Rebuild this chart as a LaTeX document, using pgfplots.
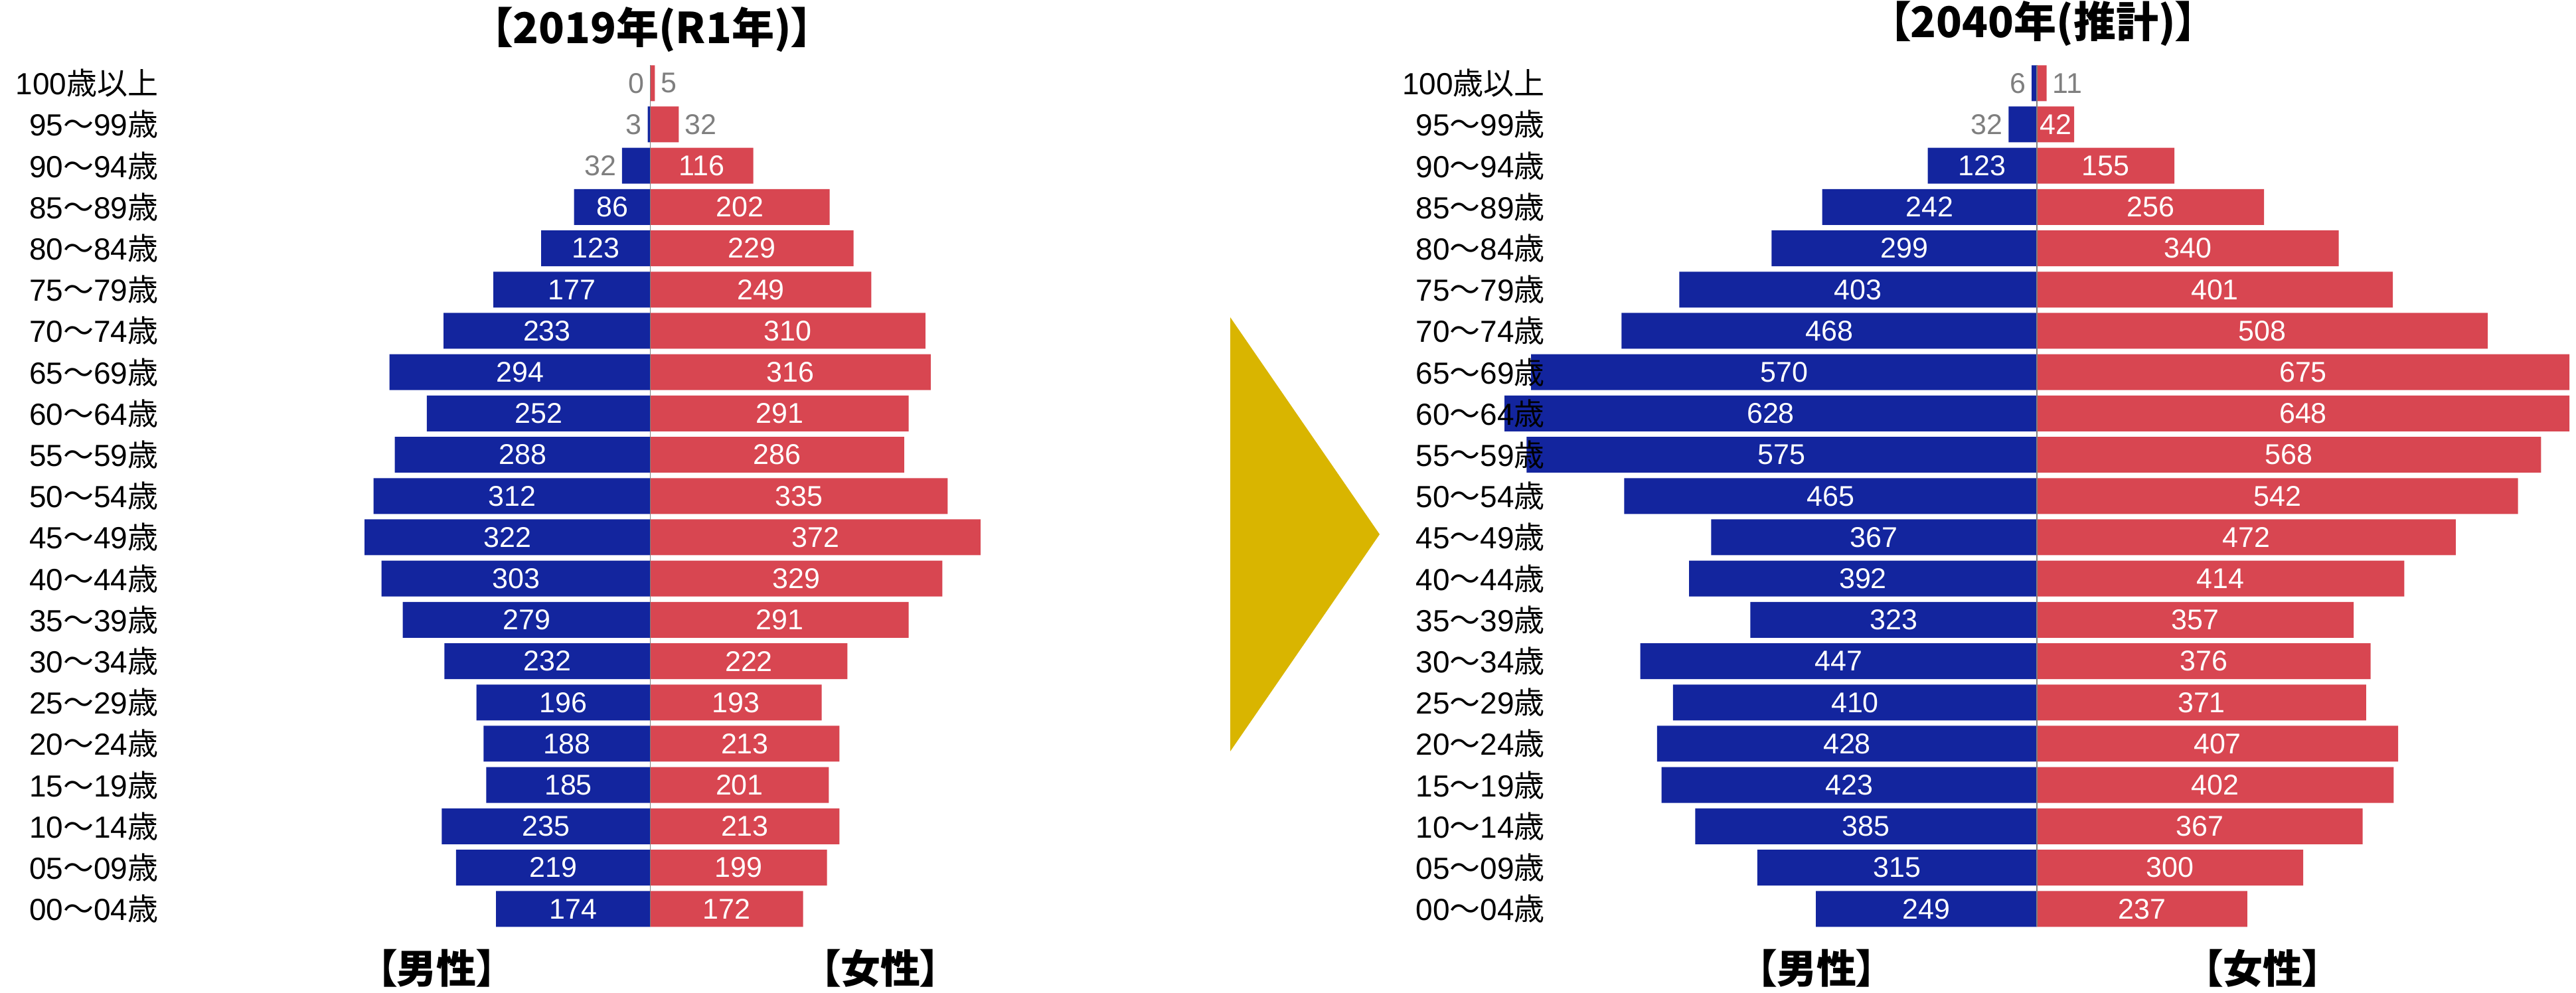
\documentclass[border=0pt]{standalone}
\usepackage{fontspec}
\usepackage{pgfplots}
\usepackage{pgfplotstable}
\pgfplotsset{compat=1.18}
\setmainfont{Liberation Sans}
\newfontfamily\cjk{Noto Sans CJK JP}
\newfontfamily\cjkp{Noto Sans CJK JP}[RawFeature=+palt]

\definecolor{mblue}{RGB}{19,37,158}
\definecolor{fred}{RGB}{216,70,81}
\definecolor{tri}{RGB}{217,181,0}
\definecolor{lgray}{RGB}{127,127,127}

\newcommand\age[2]{#1{\cjk ～}#2{\cjk 歳}}

% 2019 (R1)
\pgfplotstableread{
y m f
20 0 5
19 3 32
18 32 116
17 86 202
16 123 229
15 177 249
14 233 310
13 294 316
12 252 291
11 288 286
10 312 335
9 322 372
8 303 329
7 279 291
6 232 222
5 196 193
4 188 213
3 185 201
2 235 213
1 219 199
0 174 172
}\popA

% 2040 (estimate)
\pgfplotstableread{
y m f
20 6 11
19 32 42
18 123 155
17 242 256
16 299 340
15 403 401
14 468 508
13 570 675
12 628 648
11 575 568
10 465 542
9 367 472
8 392 414
7 323 357
6 447 376
5 410 371
4 428 407
3 423 402
2 385 367
1 315 300
0 249 237
}\popB

\pgfplotsset{
  pyr/.style={
    width=401pt, height=326.55pt, scale only axis, anchor=south west,
    xmin=-600, xmax=600, ymin=-0.5, ymax=20.5,
    axis line style={draw=none}, xtick=\empty, major tick length=0pt,
    ytick={0,...,20},
    yticklabels={\age{00}{04},\age{05}{09},\age{10}{14},\age{15}{19},\age{20}{24},
      \age{25}{29},\age{30}{34},\age{35}{39},\age{40}{44},\age{45}{49},\age{50}{54},
      \age{55}{59},\age{60}{64},\age{65}{69},\age{70}{74},\age{75}{79},\age{80}{84},
      \age{85}{89},\age{90}{94},\age{95}{99},{100{\cjk 歳以上}}},
    yticklabel style={anchor=east, inner sep=0pt, xshift=15.4pt,
      font=\fontsize{11.5}{12}\selectfont},
    axis on top,
    /pgf/number format/assume math mode=true,
  },
  mbar/.style={xbar, bar shift=0pt, bar width=0.868, fill=mblue, draw=none},
  fbar/.style={xbar, bar shift=0pt, bar width=0.868, fill=fred, draw=none},
  inlab/.style={draw=none, mark=none, point meta=explicit, nodes near coords,
    every node near coord/.append style={anchor=center, text=white,
      font=\fontsize{10.75}{11}\selectfont}},
  mout/.style={draw=none, mark=none, point meta=explicit, nodes near coords,
    every node near coord/.append style={anchor=east, inner sep=2pt, text=lgray,
      font=\fontsize{10.75}{11}\selectfont}},
  fout/.style={draw=none, mark=none, point meta=explicit, nodes near coords,
    every node near coord/.append style={anchor=west, inner sep=2pt, text=lgray,
      font=\fontsize{10.75}{11}\selectfont}},
}

\begin{document}
\begin{tikzpicture}
\useasboundingbox (0,0) rectangle (970pt,374pt);

\begin{axis}[pyr, at={(44.4pt,23.9pt)}]
  \addplot[mbar] table[x expr=-\thisrow{m}, y=y] {\popA};
  \addplot[fbar] table[x=f, y=y] {\popA};
  \draw[lgray, line width=0.4pt] (axis cs:0,-0.434) -- (axis cs:0,20.434);
  \addplot[inlab, restrict expr to domain={\thisrow{m}}{40:100000}]
    table[x expr={-min(\thisrow{m},600)/2}, y=y, meta=m] {\popA};
  \addplot[inlab, restrict expr to domain={\thisrow{f}}{40:100000}]
    table[x expr={min(\thisrow{f},600)/2}, y=y, meta=f] {\popA};
  \addplot[mout, restrict expr to domain={\thisrow{m}}{-1:39.5}]
    table[x expr=-\thisrow{m}, y=y, meta=m] {\popA};
  \addplot[fout, restrict expr to domain={\thisrow{f}}{-1:39.5}]
    table[x=f, y=y, meta=f] {\popA};
\end{axis}

\begin{axis}[pyr, at={(566.5pt,23.9pt)}]
  \addplot[mbar] table[x expr=-\thisrow{m}, y=y] {\popB};
  \addplot[fbar] table[x=f, y=y] {\popB};
  \draw[lgray, line width=0.4pt] (axis cs:0,-0.434) -- (axis cs:0,20.434);
  \addplot[inlab, restrict expr to domain={\thisrow{m}}{40:100000}]
    table[x expr={-min(\thisrow{m},600)/2}, y=y, meta=m] {\popB};
  \addplot[inlab, restrict expr to domain={\thisrow{f}}{40:100000}]
    table[x expr={min(\thisrow{f},600)/2}, y=y, meta=f] {\popB};
  \addplot[mout, restrict expr to domain={\thisrow{m}}{-1:39.5}]
    table[x expr=-\thisrow{m}, y=y, meta=m] {\popB};
  \addplot[fout, restrict expr to domain={\thisrow{f}}{-1:39.5}]
    table[x=f, y=y, meta=f] {\popB};
\end{axis}

% titles
\node[font={\cjkp\bfseries\fontsize{16}{17}\selectfont}] at (245.5pt,362.75pt) {【2019年(R1年)】};
\node[font={\cjkp\bfseries\fontsize{16}{17}\selectfont}] at (769.25pt,365.1pt) {【2040年(推計)】};

% sex labels
\node[font={\cjkp\bfseries\fontsize{15}{16}\selectfont}] at (164.4pt,9.25pt) {【男性】};
\node[font={\cjkp\bfseries\fontsize{15}{16}\selectfont}] at (331.6pt,9.25pt) {【女性】};
\node[font={\cjkp\bfseries\fontsize{15}{16}\selectfont}] at (684pt,9.25pt) {【男性】};
\node[font={\cjkp\bfseries\fontsize{15}{16}\selectfont}] at (852.1pt,9.25pt) {【女性】};

% arrow between the two years
\fill[tri] (463.25pt,254.5pt) -- (519.5pt,172.75pt) -- (463.25pt,91pt) -- cycle;
\end{tikzpicture}
\end{document}
